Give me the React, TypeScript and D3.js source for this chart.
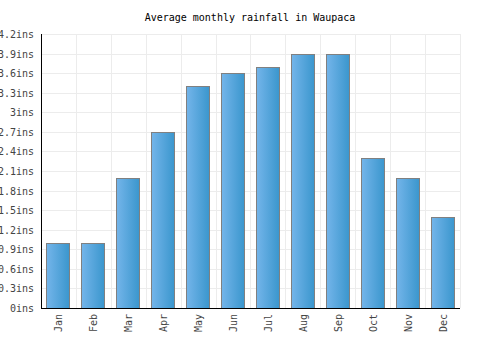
import React from "react";
import * as d3 from "d3";

const months = ["Jan","Feb","Mar","Apr","May","Jun","Jul","Aug","Sep","Oct","Nov","Dec"];
const rainfall = [1.0,1.0,2.0,2.7,3.4,3.6,3.7,3.9,3.9,2.3,2.0,1.4];
const yTicks = [0,0.3,0.6,0.9,1.2,1.5,1.8,2.1,2.4,2.7,3,3.3,3.6,3.9,4.2];
const title = "Average monthly rainfall in Waupaca";

export default function App() {
  const W = 500, H = 350;
  const left = 41, right = 460, top = 34, bottom = 308;
  const xb = d3.scaleBand<string>().domain(months).range([left, right]);
  const y = d3.scaleLinear().domain([0, 4.2]).range([bottom, top]);
  const font = "'DejaVu Sans Mono', monospace";
  const fmt = (v: number) => `${+v.toFixed(1)}ins`;
  return (
    <svg width={W} height={H} style={{ position: "absolute", left: 0, top: 0 }}>
      <defs>
        <linearGradient id="bg" x1="0" x2="1" y1="0" y2="0">
          <stop offset="0" stopColor="#74b5ea" />
          <stop offset="1" stopColor="#3a96cd" />
        </linearGradient>
      </defs>
      <rect width={W} height={H} fill="#fff" />
      <text x={250} y={21} textAnchor="middle" fontFamily={font} fontSize={10} fill="#000">{title}</text>
      {yTicks.map((t, i) => (
        <line key={"h" + i} x1={left} x2={right} y1={Math.round(y(t)) + 0.5} y2={Math.round(y(t)) + 0.5} stroke="#ececec" strokeWidth={1} />
      ))}
      {months.map((m, i) => (
        <line key={"v" + i} x1={Math.round(xb(m)! + xb.bandwidth()) + 0.5} x2={Math.round(xb(m)! + xb.bandwidth()) + 0.5} y1={top} y2={bottom} stroke="#ececec" strokeWidth={1} />
      ))}
      {months.map((m, i) => (
        <rect key={"b" + i} x={Math.round(xb(m)! + xb.bandwidth() / 2 - 12) + 0.5} y={Math.round(y(rainfall[i])) + 0.5} width={23} height={bottom - Math.round(y(rainfall[i]))} fill="url(#bg)" stroke="#808080" strokeWidth={1} />
      ))}
      <line x1={left + 0.5} x2={left + 0.5} y1={top} y2={bottom} stroke="#000" />
      <line x1={left} x2={right} y1={bottom + 0.5} y2={bottom + 0.5} stroke="#000" />
      {yTicks.map((t, i) => (
        <text key={"yl" + i} x={34} y={y(t) + 4} textAnchor="end" fontFamily={font} fontSize={10} fill="#444">{fmt(t)}</text>
      ))}
      {months.map((m, i) => {
        const cx = xb(m)! + xb.bandwidth() / 2 + 4;
        return (
          <text key={"xl" + i} transform={`translate(${cx},314) rotate(-90)`} textAnchor="end" fontFamily={font} fontSize={10} fill="#444">{m}</text>
        );
      })}
    </svg>
  );
}
